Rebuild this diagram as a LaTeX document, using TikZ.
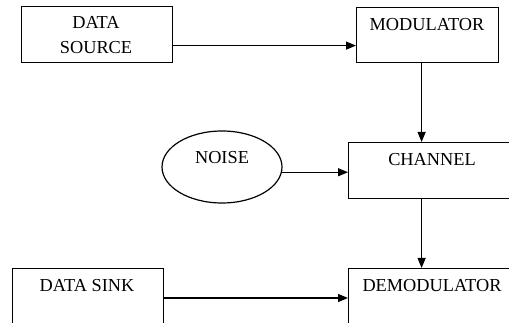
\documentclass[tikz,border=0pt]{standalone}
\usepackage{fontspec}
\setmainfont{Liberation Serif}
\usetikzlibrary{arrows.meta,shapes.geometric}

\tikzset{
  blk/.style={draw, line width=1.2pt, anchor=north west, inner sep=0pt},
  arr/.style={line width=1.2pt, -{Triangle[length=10pt,width=8pt]}},
  lbl/.style={inner sep=0pt, font=\rmfamily\fontsize{18.3}{25}\selectfont}
}

\begin{document}
\begin{tikzpicture}[x=1pt,y=-1pt]
  \useasboundingbox (0,0) rectangle (509,323);
  \clip (0,0) rectangle (509,323);

  \node[blk, minimum width=151pt, minimum height=56pt] (src) at (21,6) {};
  \node[blk, minimum width=142pt, minimum height=55pt] (mod) at (356,7) {};
  \node[blk, minimum width=190pt, minimum height=56pt] (chan) at (348,142) {};
  \node[blk, minimum width=190pt, minimum height=80pt] (demod) at (348,268) {};
  \node[blk, minimum width=151pt, minimum height=80pt] (sink) at (12,268) {};
  \node[draw, line width=1.2pt, ellipse, minimum width=120pt, minimum height=72pt] (noise) at (222,167) {};

  \node[lbl, align=center] (srctxt) at (96,35) {DATA\\SOURCE};
  \node[lbl] (modtxt) at (427,25) {MODULATOR};
  \node[lbl] (chantxt) at (432,160) {CHANNEL};
  \node[lbl] (noisetxt) at ([yshift=9pt]noise.center) {NOISE};
  \node[lbl] (demodtxt) at (432,286) {DEMODULATOR};
  \node[lbl] (sinktxt) at (87,286) {DATA SINK};

  \coordinate (m1) at ([xshift=-6pt]mod.south);

  \draw[arr] ([yshift=-11pt]src.east) -- ([yshift=-10.5pt]mod.west);
  \draw[arr] (m1) -- (m1 |- chan.north);
  \draw[arr] (noise.-5) -- (noise.-5 -| chan.west);
  \draw[arr] (m1 |- chan.south) -- (m1 |- demod.north);
  \draw[arr] ([yshift=-30pt]sink.north east) -- ([yshift=-30pt]demod.north west);
\end{tikzpicture}
\end{document}
